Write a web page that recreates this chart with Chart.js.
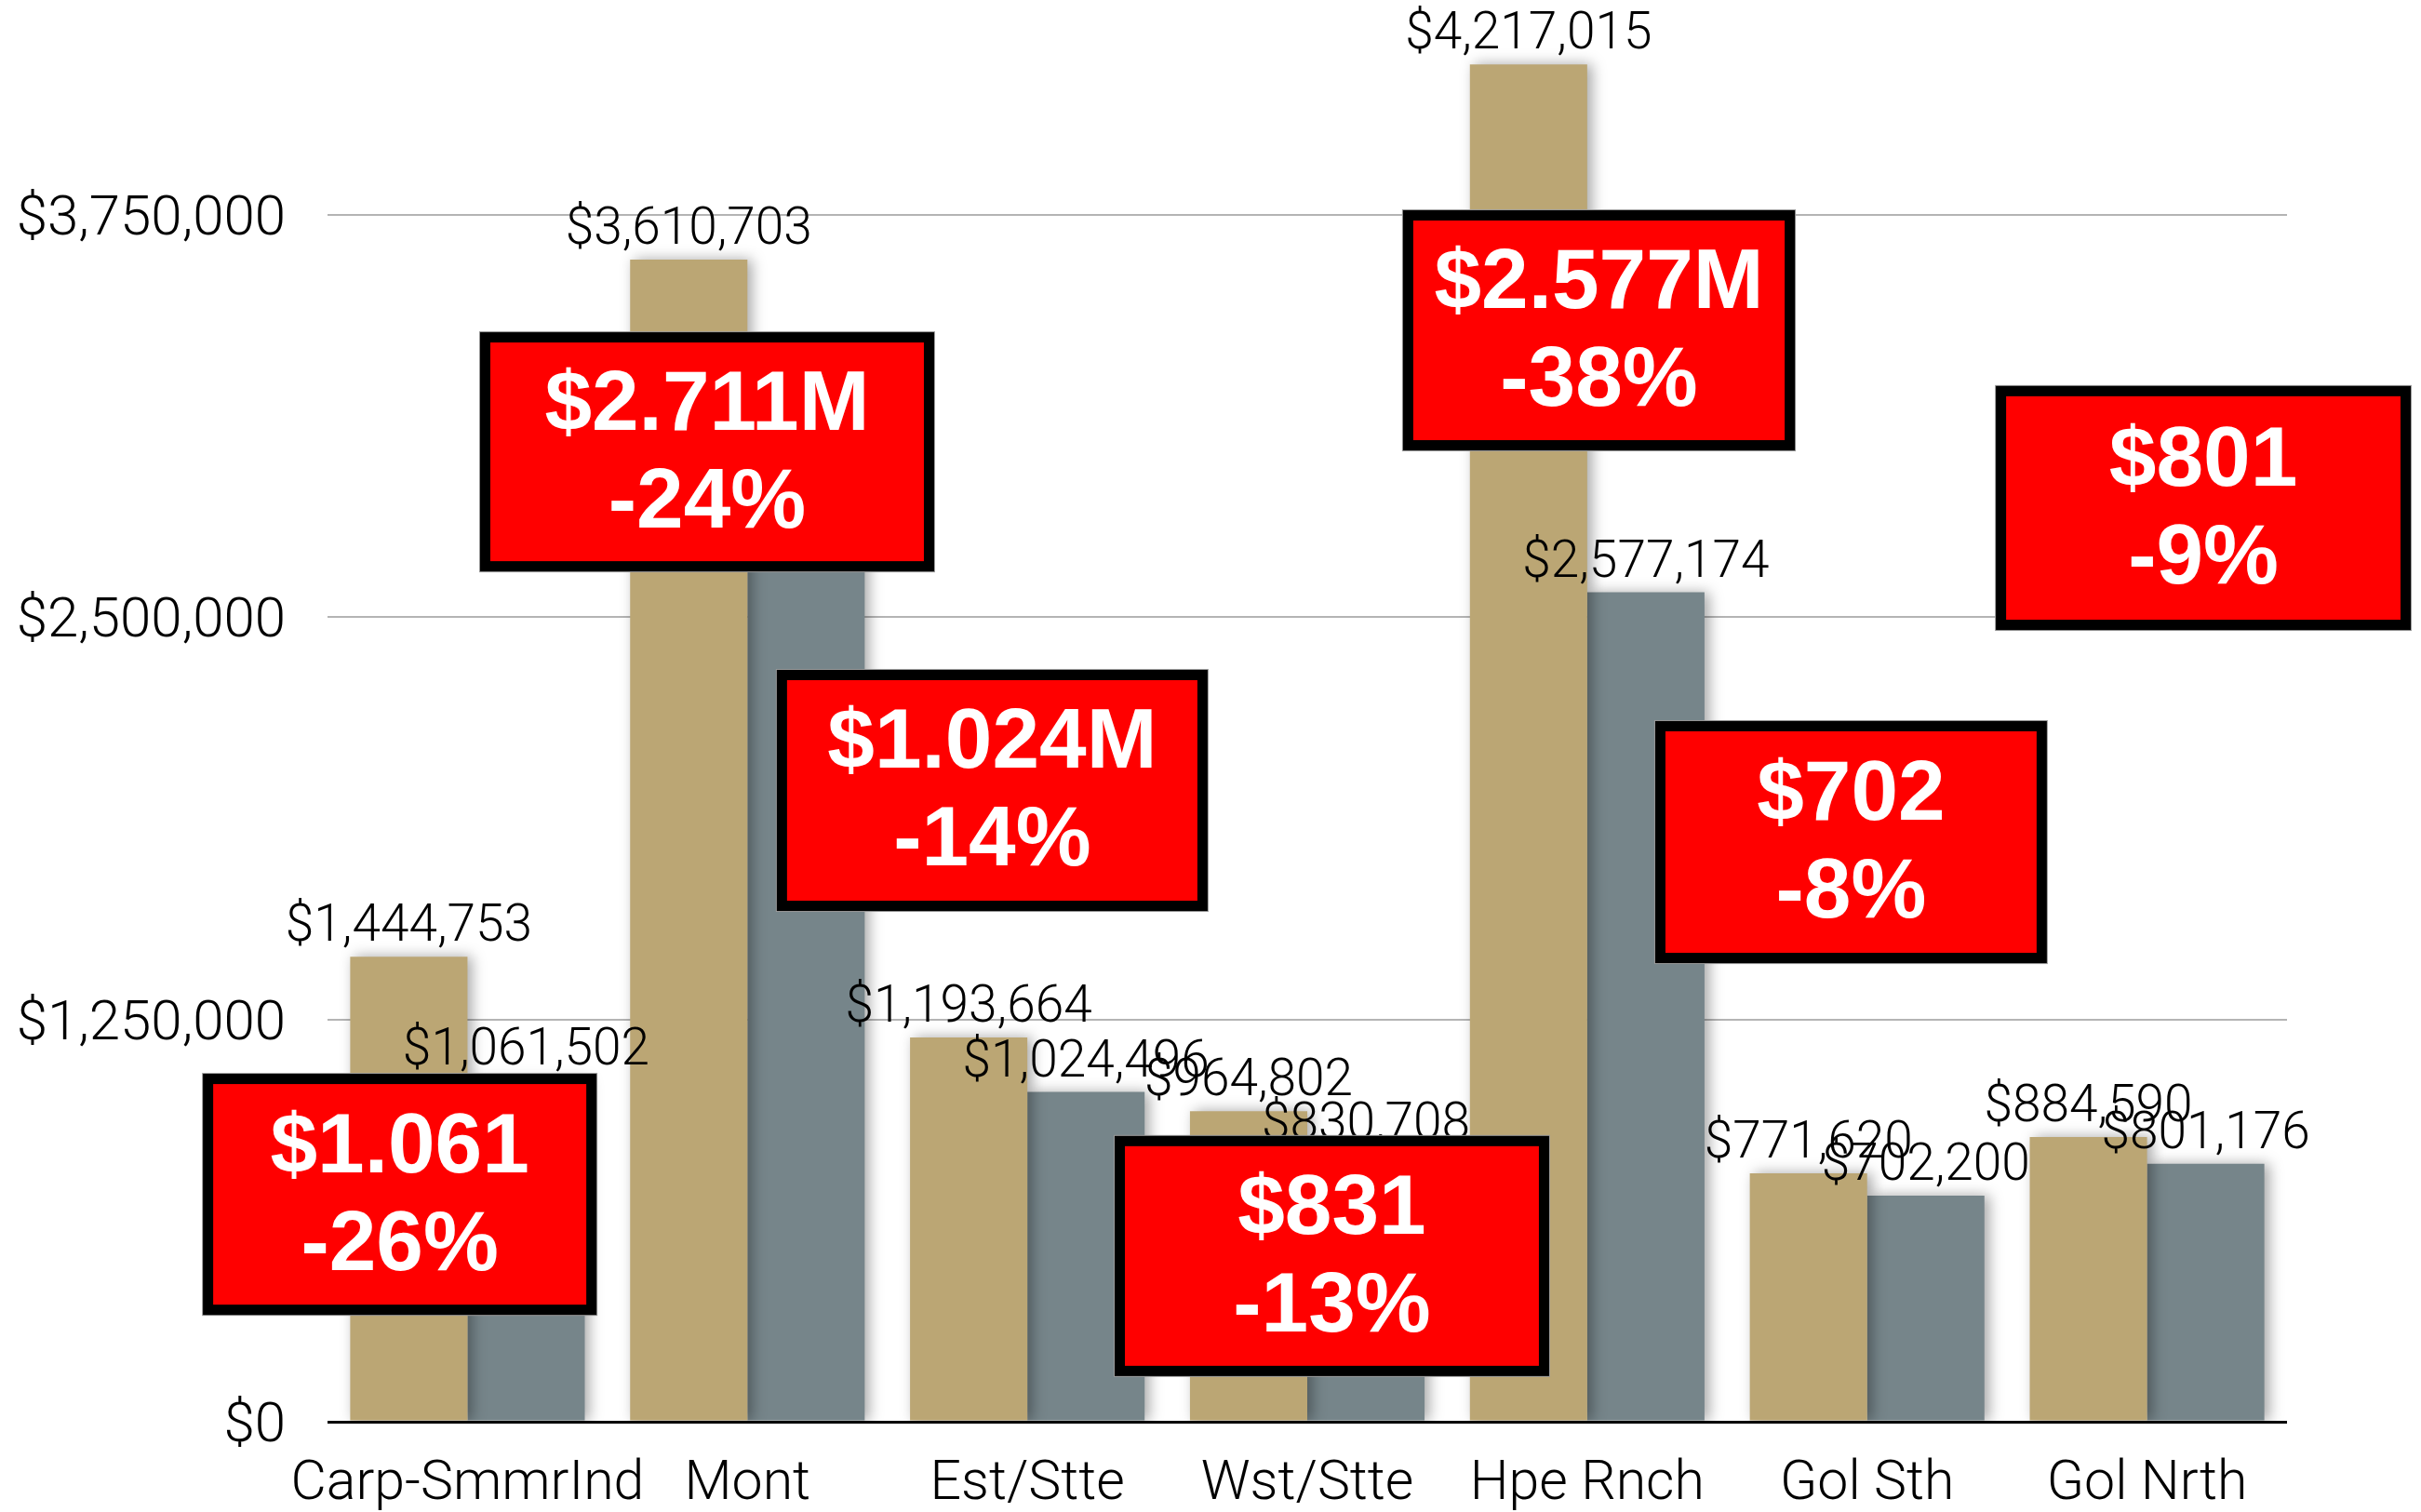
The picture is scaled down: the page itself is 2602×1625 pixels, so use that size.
<!DOCTYPE html>
<html>
<head>
<meta charset="utf-8">
<script src="https://cdn.jsdelivr.net/npm/chart.js@4.4.1/dist/chart.umd.min.js"></script>
<style>
  html, body { margin: 0; padding: 0; background: #fff; }
  #wrap { width: 2602px; height: 1625px; position: relative; }
</style>
</head>
<body>
<div id="wrap"><canvas id="chart"></canvas></div>
<script>
// values
const categories = ['Carp-SmmrInd', 'Mont', 'Est/Stte', 'Wst/Stte', 'Hpe Rnch', 'Gol Sth', 'Gol Nrth'];
const beforeVals = [1444753, 3610703, 1193664, 964802, 4217015, 771620, 884590];
const afterVals = [1061502, 2711000, 1024496, 830708, 2577174, 702200, 801176];
const yTicks = [0, 1250000, 2500000, 3750000];
const boxAmount = ['$1.061', '$2.711M', '$1.024M', '$831', '$2.577M', '$702', '$801'];
const boxChange = ['-26%', '-24%', '-14%', '-13%', '-38%', '-8%', '-9%'];

// where the red call-outs sit, in category / value units
const boxPlace = [
    { x0: -0.945, x1: 0.461, top: 1081000, bottom: 332000 },
    { x0: 0.045, x1: 1.667, top: 3385000, bottom: 2642000 },
    { x0: 1.105, x1: 2.644, top: 2336000, bottom: 1587000 },
    { x0: 2.312, x1: 3.864, top: 888000, bottom: 142000 },
    { x0: 3.342, x1: 4.742, top: 3764000, bottom: 3018000 },
    { x0: 4.243, x1: 5.642, top: 2177000, bottom: 1425000 },
    { x0: 5.460, x1: 6.942, top: 3218000, bottom: 2460000 }
];

const money = v => '$' + Math.round(v).toLocaleString('en-US');
const thinFont = "'Roboto', 'Liberation Sans', sans-serif";

// soft shadow behind the bars
const barShadow = {
    id: 'barShadow',
    beforeDatasetsDraw(chart) {
        const ctx = chart.ctx;
        ctx.save();
        ctx.shadowColor = 'rgba(0,0,0,0.35)';
        ctx.shadowBlur = 14;
        ctx.shadowOffsetX = 5;
        ctx.shadowOffsetY = 0;
    },
    afterDatasetsDraw(chart) {
        chart.ctx.restore();
    }
};

// value labels on top of every bar
const valueLabels = {
    id: 'valueLabels',
    afterDatasetsDraw(chart) {
        const ctx = chart.ctx;
        ctx.save();
        ctx.font = '300 55px ' + thinFont;
        ctx.fillStyle = '#000';
        ctx.textAlign = 'center';
        ctx.textBaseline = 'alphabetic';
        chart.data.datasets.forEach((ds, di) => {
            chart.getDatasetMeta(di).data.forEach((bar, i) => {
                ctx.fillText(money(ds.data[i]), bar.x, bar.y - 17);
            });
        });
        ctx.restore();
    }
};

// red boxes with the after value and the change
const callouts = {
    id: 'callouts',
    afterDraw(chart) {
        const ctx = chart.ctx;
        const xs = chart.scales.x, ys = chart.scales.y;
        const step = xs.getPixelForValue(1) - xs.getPixelForValue(0);
        const x0px = xs.getPixelForValue(0);
        ctx.save();
        boxPlace.forEach((b, i) => {
            const left = x0px + b.x0 * step;
            const right = x0px + b.x1 * step;
            const top = ys.getPixelForValue(b.top);
            const bottom = ys.getPixelForValue(b.bottom);
            const bw = 11;
            ctx.fillStyle = '#9a9a9a';
            ctx.fillRect(left - 1, top - 1, right - left + 2, bottom - top + 2);
            ctx.fillStyle = '#000';
            ctx.fillRect(left, top, right - left, bottom - top);
            ctx.fillStyle = '#ff0000';
            ctx.fillRect(left + bw, top + bw, right - left - 2 * bw, bottom - top - 2 * bw);
            const cx = (left + right) / 2, cy = (top + bottom) / 2;
            ctx.fillStyle = '#fff';
            ctx.font = "bold 91px 'Liberation Sans', Arial, sans-serif";
            ctx.textAlign = 'center';
            ctx.textBaseline = 'alphabetic';
            ctx.fillText(boxAmount[i], cx, cy - 24);
            ctx.fillText(boxChange[i], cx, cy + 81);
        });
        ctx.restore();
    }
};

new Chart(document.getElementById('chart'), {
    type: 'bar',
    data: {
        labels: categories,
        datasets: [
            { label: 'Before', data: beforeVals, backgroundColor: '#bba674', borderWidth: 0 },
            { label: 'After', data: afterVals, backgroundColor: '#76858a', borderWidth: 0 }
        ]
    },
    options: {
        responsive: true,
        maintainAspectRatio: false,
        animation: false,
        events: [],
        datasets: { bar: { categoryPercentage: 0.838, barPercentage: 1.0 } },
        layout: { padding: { left: 0, right: 144, top: 6, bottom: 0 } },
        plugins: { legend: { display: false }, tooltip: { enabled: false } },
        scales: {
            x: {
                grid: { display: false },
                border: { display: false },
                ticks: {
                    autoSkip: false, maxRotation: 0, minRotation: 0,
                    color: '#000', padding: 25,
                    font: { family: thinFont, size: 59, weight: 300 }
                },
                afterFit(scale) {
                    scale.height = 97;
                    scale.paddingLeft = 0;
                    scale.paddingRight = 0;
                }
            },
            y: {
                min: 0,
                max: 4400000,
                afterBuildTicks(scale) { scale.ticks = yTicks.map(v => ({ value: v })); },
                grid: {
                    drawTicks: false,
                    color: ctx => ctx.tick && ctx.tick.value === 0 ? '#000' : '#b4b4b4',
                    lineWidth: ctx => ctx.tick && ctx.tick.value === 0 ? 3 : 2
                },
                border: { display: false },
                ticks: {
                    color: '#000', padding: 45, labelOffset: 6,
                    font: { family: thinFont, size: 60, weight: 300 },
                    callback: v => money(v)
                },
                afterFit(scale) {
                    scale.width = 352;
                    scale.paddingTop = 0;
                    scale.paddingBottom = 0;
                }
            }
        }
    },
    plugins: [barShadow, valueLabels, callouts]
});
</script>
</body>
</html>
